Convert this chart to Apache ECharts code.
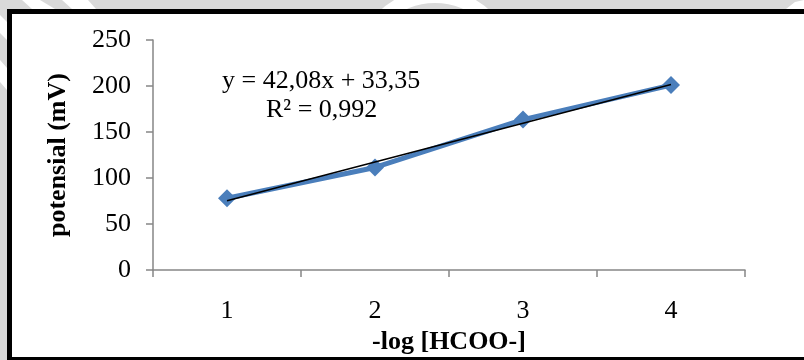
<!DOCTYPE html>
<html>
<head>
<meta charset="utf-8">
<script src="https://cdn.jsdelivr.net/npm/echarts@6/dist/echarts.min.js"></script>
<style>
html,body{margin:0;padding:0;background:#d9d9d9;}
#c{width:804px;height:360px;}
</style>
</head>
<body>
<div id="c"></div>
<script>
const categories = ['1', '2', '3', '4'];
const potentialValues = [78, 111.5, 163.5, 201];
const trendValues = [75.4, 117.5, 159.6, 201.7];
const yTicks = { min: 0, max: 250, interval: 50 };
const equationLines = ['y = 42,08x + 33,35', 'R\u00B2 = 0,992'];
const xTitle = '-log [HCOO-]';
const yTitle = 'potensial (mV)';

const FONT = "'Liberation Serif', 'Times New Roman', serif";
const chart = echarts.init(document.getElementById('c'));
chart.setOption({
  backgroundColor: '#d9d9d9',
  animation: false,
  graphic: [
    { type: 'polygon', z: -10, shape: { points: [[22,0],[40,0],[55,9],[32,9]] }, style: { fill: '#ffffff' } },
    { type: 'polygon', z: -10, shape: { points: [[62,0],[88,0],[96,9],[72,9]] }, style: { fill: '#ffffff' } },
    { type: 'polygon', z: -10, shape: { points: [[0,15],[7,22],[7,40],[0,33]] }, style: { fill: '#ffffff' } },
    { type: 'polygon', z: -10, shape: { points: [[0,60],[7,68],[7,90],[0,82]] }, style: { fill: '#ffffff' } },
    { type: 'circle', z: -10, shape: { cx: 435, cy: 70, r: 74 }, style: { fill: 'none', stroke: '#ffffff', lineWidth: 14 } },
    { type: 'polygon', z: -10, shape: { points: [[786,9],[795,2],[804,0],[804,9]] }, style: { fill: '#ffffff' } },
    { type: 'rect', z: -5, shape: { x: 9.5, y: 11.5, width: 900, height: 348 }, style: { fill: '#ffffff', stroke: '#000000', lineWidth: 5 } },
    { type: 'text', z: 10, left: 222, top: 68, style: { text: equationLines[0], font: '26px ' + FONT, fill: '#000' } },
    { type: 'text', z: 10, left: 266, top: 97, style: { text: equationLines[1], font: '26px ' + FONT, fill: '#000' } }
  ],
  grid: { left: 153, right: 59, top: 40, bottom: 88 },
  xAxis: {
    type: 'category',
    data: categories,
    boundaryGap: true,
    name: xTitle,
    nameLocation: 'middle',
    nameGap: 57,
    nameTextStyle: { fontFamily: FONT, fontSize: 26, fontWeight: 'bold', color: '#000' },
    axisLine: { show: true, lineStyle: { color: '#868686', width: 1.5 } },
    axisTick: { show: true, inside: false, length: 7, alignWithLabel: false, lineStyle: { color: '#868686', width: 1.5 } },
    axisLabel: { fontFamily: FONT, fontSize: 26, color: '#000', margin: 28 },
    splitLine: { show: false }
  },
  yAxis: {
    type: 'value',
    min: yTicks.min,
    max: yTicks.max,
    interval: yTicks.interval,
    name: yTitle,
    nameLocation: 'middle',
    nameGap: 82,
    nameRotate: 90,
    nameTextStyle: { fontFamily: FONT, fontSize: 26, fontWeight: 'bold', color: '#000' },
    axisLine: { show: true, lineStyle: { color: '#868686', width: 1.5 } },
    axisTick: { show: true, inside: false, length: 7, lineStyle: { color: '#868686', width: 1.5 } },
    axisLabel: { fontFamily: FONT, fontSize: 26, color: '#000', margin: 22 },
    splitLine: { show: false }
  },
  series: [
    {
      type: 'line',
      data: potentialValues,
      symbol: 'diamond',
      symbolSize: 18,
      lineStyle: { color: '#4a7ebb', width: 5 },
      itemStyle: { color: '#4a7ebb' },
      z: 2
    },
    {
      type: 'line',
      data: trendValues,
      symbol: 'none',
      lineStyle: { color: '#000000', width: 1.5 },
      z: 3
    }
  ]
});
</script>
</body>
</html>
